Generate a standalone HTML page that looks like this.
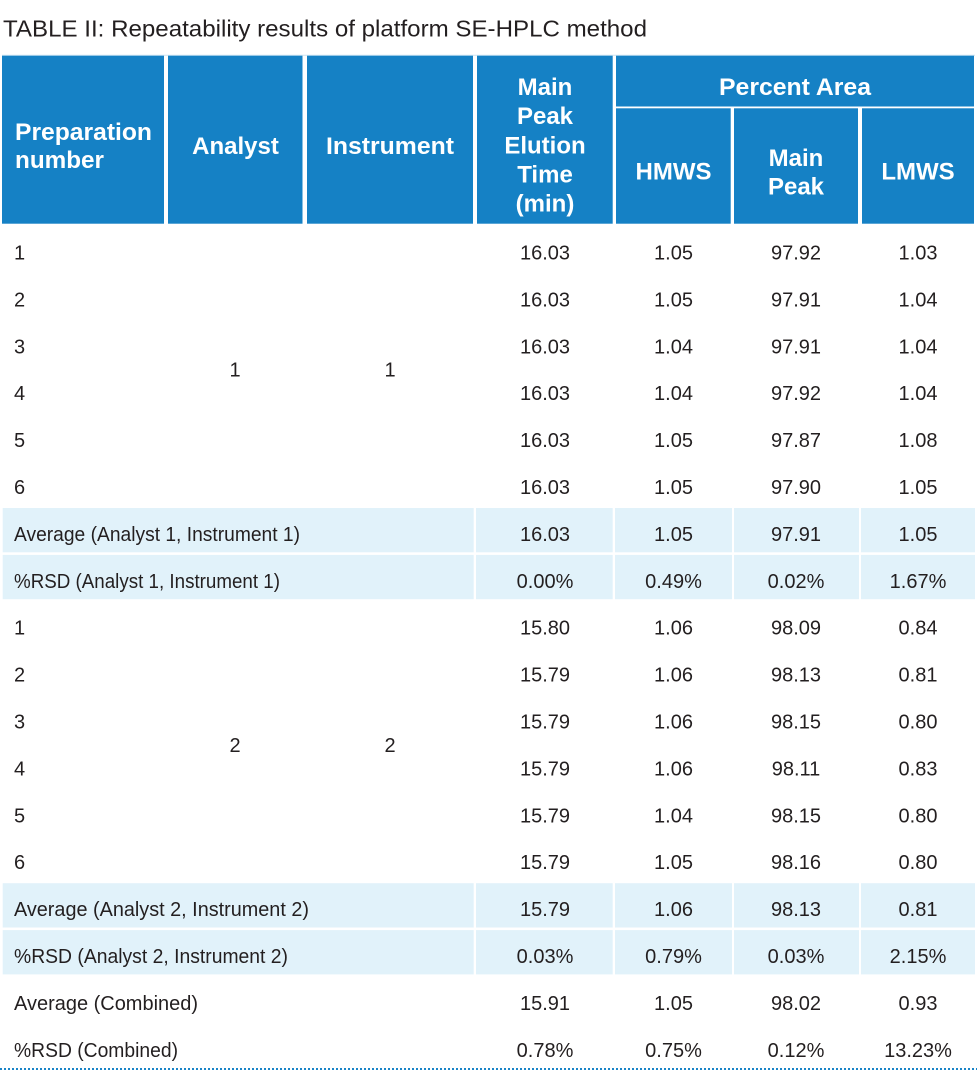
<!DOCTYPE html>
<html><head><meta charset="utf-8"><style>
html,body{margin:0;padding:0;background:#fff;}
svg{display:block;}
.t{font-family:"Liberation Sans",sans-serif;fill:#231f20;font-size:20px;}
.h{font-family:"Liberation Sans",sans-serif;fill:#fff;font-size:24px;font-weight:bold;}
.c{text-anchor:middle;}
</style></head><body>
<svg width="977" height="1073" viewBox="0 0 977 1073" xmlns="http://www.w3.org/2000/svg">
<text x="3" y="36.7" class="t" style="font-size:23px" textLength="644" lengthAdjust="spacingAndGlyphs">TABLE II: Repeatability results of platform SE-HPLC method</text>
<line x1="2" y1="55.2" x2="975" y2="55.2" stroke="#c9e3f2" stroke-width="1"/>
<g fill="#1581c5">
<rect x="2" y="55.7" width="162" height="168"/>
<rect x="168" y="55.7" width="134.5" height="168"/>
<rect x="307" y="55.7" width="166" height="168"/>
<rect x="477" y="55.7" width="135.7" height="168"/>
<rect x="616" y="55.7" width="358" height="50.8"/>
<rect x="616" y="108.3" width="114.7" height="115.4"/>
<rect x="734" y="108.3" width="124" height="115.4"/>
<rect x="862" y="108.3" width="112" height="115.4"/>
</g>
<text x="15" y="140" class="h" textLength="137" lengthAdjust="spacingAndGlyphs">Preparation</text>
<text x="15" y="168" class="h" textLength="89" lengthAdjust="spacingAndGlyphs">number</text>
<text x="235.5" y="154" class="h c">Analyst</text>
<text x="390" y="154" class="h c" textLength="128" lengthAdjust="spacingAndGlyphs">Instrument</text>
<text x="545" y="95" class="h c">Main</text>
<text x="545" y="124" class="h c">Peak</text>
<text x="545" y="153.3" class="h c">Elution</text>
<text x="545" y="182.7" class="h c">Time</text>
<text x="545" y="211.7" class="h c">(min)</text>
<text x="795" y="95" class="h c" textLength="152" lengthAdjust="spacingAndGlyphs">Percent Area</text>
<text x="673.5" y="179.3" class="h c">HMWS</text>
<text x="796" y="166" class="h c">Main</text>
<text x="796" y="194.3" class="h c">Peak</text>
<text x="918" y="179.3" class="h c">LMWS</text>

<g fill="#e1f2fa">
<rect x="2.7" y="508" width="471" height="44.3"/><rect x="476" y="508" width="136.7" height="44.3"/><rect x="615" y="508" width="117" height="44.3"/><rect x="734" y="508" width="125" height="44.3"/><rect x="861" y="508" width="114" height="44.3"/>
<rect x="2.7" y="554.9" width="471" height="44.3"/><rect x="476" y="554.9" width="136.7" height="44.3"/><rect x="615" y="554.9" width="117" height="44.3"/><rect x="734" y="554.9" width="125" height="44.3"/><rect x="861" y="554.9" width="114" height="44.3"/>
<rect x="2.7" y="883.2" width="471" height="44.3"/><rect x="476" y="883.2" width="136.7" height="44.3"/><rect x="615" y="883.2" width="117" height="44.3"/><rect x="734" y="883.2" width="125" height="44.3"/><rect x="861" y="883.2" width="114" height="44.3"/>
<rect x="2.7" y="930.1" width="471" height="44.3"/><rect x="476" y="930.1" width="136.7" height="44.3"/><rect x="615" y="930.1" width="117" height="44.3"/><rect x="734" y="930.1" width="125" height="44.3"/><rect x="861" y="930.1" width="114" height="44.3"/>
</g>

<g class="t">
<text x="14" y="259.5" class="t">1</text>
<text x="14" y="306.4" class="t">2</text>
<text x="14" y="353.3" class="t">3</text>
<text x="14" y="400.2" class="t">4</text>
<text x="14" y="447.1" class="t">5</text>
<text x="14" y="494" class="t">6</text>
<text x="14" y="540.9" class="t" textLength="286" lengthAdjust="spacingAndGlyphs">Average (Analyst 1, Instrument 1)</text>
<text x="14" y="587.8" class="t" textLength="266" lengthAdjust="spacingAndGlyphs">%RSD (Analyst 1, Instrument 1)</text>
<text x="14" y="634.7" class="t">1</text>
<text x="14" y="681.6" class="t">2</text>
<text x="14" y="728.5" class="t">3</text>
<text x="14" y="775.4" class="t">4</text>
<text x="14" y="822.3" class="t">5</text>
<text x="14" y="869.2" class="t">6</text>
<text x="14" y="916.1" class="t" textLength="295" lengthAdjust="spacingAndGlyphs">Average (Analyst 2, Instrument 2)</text>
<text x="14" y="963" class="t" textLength="274" lengthAdjust="spacingAndGlyphs">%RSD (Analyst 2, Instrument 2)</text>
<text x="14" y="1009.9" class="t" textLength="184" lengthAdjust="spacingAndGlyphs">Average (Combined)</text>
<text x="14" y="1056.8" class="t" textLength="164" lengthAdjust="spacingAndGlyphs">%RSD (Combined)</text>

<text x="235" y="376.5" class="t c">1</text>
<text x="390" y="376.5" class="t c">1</text>
<text x="235" y="752" class="t c">2</text>
<text x="390" y="752" class="t c">2</text>
</g>

<g class="t c">
<text x="545" y="259.5" class="t c">16.03</text><text x="673.5" y="259.5" class="t c">1.05</text><text x="796" y="259.5" class="t c">97.92</text><text x="918" y="259.5" class="t c">1.03</text>
<text x="545" y="306.4" class="t c">16.03</text><text x="673.5" y="306.4" class="t c">1.05</text><text x="796" y="306.4" class="t c">97.91</text><text x="918" y="306.4" class="t c">1.04</text>
<text x="545" y="353.3" class="t c">16.03</text><text x="673.5" y="353.3" class="t c">1.04</text><text x="796" y="353.3" class="t c">97.91</text><text x="918" y="353.3" class="t c">1.04</text>
<text x="545" y="400.2" class="t c">16.03</text><text x="673.5" y="400.2" class="t c">1.04</text><text x="796" y="400.2" class="t c">97.92</text><text x="918" y="400.2" class="t c">1.04</text>
<text x="545" y="447.1" class="t c">16.03</text><text x="673.5" y="447.1" class="t c">1.05</text><text x="796" y="447.1" class="t c">97.87</text><text x="918" y="447.1" class="t c">1.08</text>
<text x="545" y="494" class="t c">16.03</text><text x="673.5" y="494" class="t c">1.05</text><text x="796" y="494" class="t c">97.90</text><text x="918" y="494" class="t c">1.05</text>
<text x="545" y="540.9" class="t c">16.03</text><text x="673.5" y="540.9" class="t c">1.05</text><text x="796" y="540.9" class="t c">97.91</text><text x="918" y="540.9" class="t c">1.05</text>
<text x="545" y="587.8" class="t c">0.00%</text><text x="673.5" y="587.8" class="t c">0.49%</text><text x="796" y="587.8" class="t c">0.02%</text><text x="918" y="587.8" class="t c">1.67%</text>
<text x="545" y="634.7" class="t c">15.80</text><text x="673.5" y="634.7" class="t c">1.06</text><text x="796" y="634.7" class="t c">98.09</text><text x="918" y="634.7" class="t c">0.84</text>
<text x="545" y="681.6" class="t c">15.79</text><text x="673.5" y="681.6" class="t c">1.06</text><text x="796" y="681.6" class="t c">98.13</text><text x="918" y="681.6" class="t c">0.81</text>
<text x="545" y="728.5" class="t c">15.79</text><text x="673.5" y="728.5" class="t c">1.06</text><text x="796" y="728.5" class="t c">98.15</text><text x="918" y="728.5" class="t c">0.80</text>
<text x="545" y="775.4" class="t c">15.79</text><text x="673.5" y="775.4" class="t c">1.06</text><text x="796" y="775.4" class="t c">98.11</text><text x="918" y="775.4" class="t c">0.83</text>
<text x="545" y="822.3" class="t c">15.79</text><text x="673.5" y="822.3" class="t c">1.04</text><text x="796" y="822.3" class="t c">98.15</text><text x="918" y="822.3" class="t c">0.80</text>
<text x="545" y="869.2" class="t c">15.79</text><text x="673.5" y="869.2" class="t c">1.05</text><text x="796" y="869.2" class="t c">98.16</text><text x="918" y="869.2" class="t c">0.80</text>
<text x="545" y="916.1" class="t c">15.79</text><text x="673.5" y="916.1" class="t c">1.06</text><text x="796" y="916.1" class="t c">98.13</text><text x="918" y="916.1" class="t c">0.81</text>
<text x="545" y="963" class="t c">0.03%</text><text x="673.5" y="963" class="t c">0.79%</text><text x="796" y="963" class="t c">0.03%</text><text x="918" y="963" class="t c">2.15%</text>
<text x="545" y="1009.9" class="t c">15.91</text><text x="673.5" y="1009.9" class="t c">1.05</text><text x="796" y="1009.9" class="t c">98.02</text><text x="918" y="1009.9" class="t c">0.93</text>
<text x="545" y="1056.8" class="t c">0.78%</text><text x="673.5" y="1056.8" class="t c">0.75%</text><text x="796" y="1056.8" class="t c">0.12%</text><text x="918" y="1056.8" class="t c">13.23%</text>
</g>

<line x1="0" y1="1069" x2="977" y2="1069" stroke="#1a84c7" stroke-width="2" stroke-dasharray="2 2"/>
</svg>
</body></html>
